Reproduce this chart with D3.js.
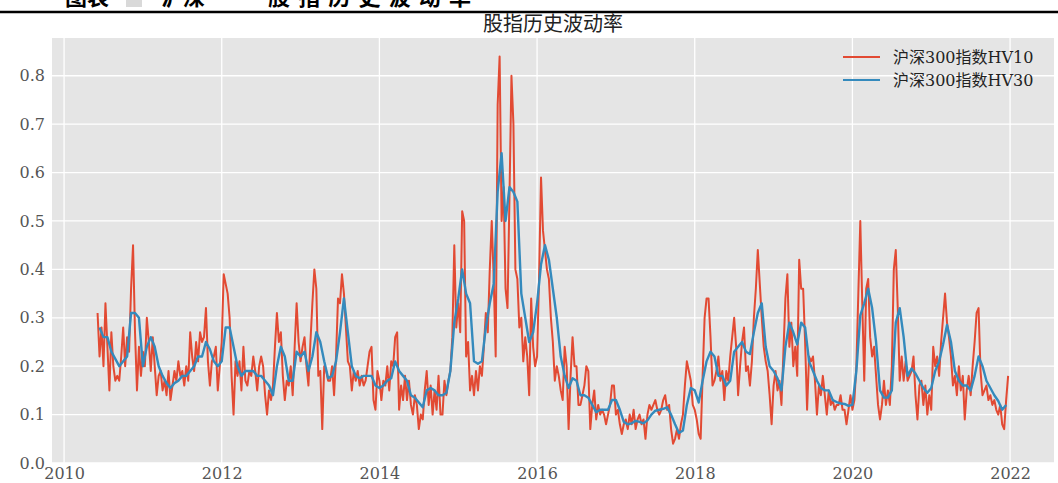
<!DOCTYPE html>
<html>
<head>
<meta charset="utf-8">
<script src="https://cdn.jsdelivr.net/npm/d3@7"></script>
<style>
  body { margin: 0; background: #fff; }
  svg text { font-family: "DejaVu Serif", "Noto Sans CJK SC", serif; }
  .axis path, .axis line { display: none; }
  .axis text { fill: #555; font-size: 16px; }
</style>
</head>
<body>
<svg id="chart"></svg>
<script>
// HV10 series, one value every 0.025 year starting 2010.425
const hv10Start = 2010.425;
const hv10Step = 0.025;
const hv10_2010 = [0.31,0.22,0.28,0.20,0.33,0.24,0.15,0.27,0.20,0.17,0.18,0.17,0.22,0.28,0.20,0.26,0.23,0.36,0.45,0.27,0.15,0.24,0.18];
const hv10_2011 = [0.23,0.20,0.30,0.25,0.19,0.26,0.20,0.14,0.18,0.19,0.15,0.17,0.14,0.19,0.13,0.16,0.19,0.17,0.21,0.18,0.19,0.16,0.20,0.17,0.27,0.22,0.19,0.25,0.21,0.27,0.25,0.26,0.32,0.21,0.16,0.21,0.22,0.24,0.15,0.20];
const hv10_2012 = [0.25,0.39,0.37,0.35,0.30,0.18,0.10,0.21,0.18,0.21,0.15,0.24,0.17,0.16,0.19,0.18,0.22,0.19,0.15,0.20,0.22,0.20,0.14,0.10,0.15,0.13,0.16,0.24,0.31,0.25,0.27,0.18,0.13,0.17,0.16,0.20,0.14,0.24,0.33,0.25];
const hv10_2013 = [0.21,0.24,0.26,0.20,0.16,0.25,0.33,0.40,0.36,0.18,0.19,0.07,0.20,0.19,0.17,0.17,0.20,0.14,0.22,0.34,0.33,0.39,0.35,0.28,0.21,0.20,0.15,0.19,0.17,0.19,0.16,0.18,0.16,0.17,0.20,0.23,0.24,0.13,0.11,0.19];
const hv10_2014 = [0.17,0.13,0.17,0.16,0.20,0.15,0.21,0.20,0.26,0.27,0.11,0.16,0.13,0.18,0.13,0.17,0.12,0.10,0.14,0.12,0.07,0.10,0.09,0.15,0.19,0.12,0.16,0.10,0.15,0.11,0.18,0.10,0.10,0.17,0.14,0.17,0.19,0.26,0.45,0.28];
const hv10_2015 = [0.33,0.27,0.52,0.50,0.22,0.25,0.15,0.18,0.14,0.19,0.15,0.20,0.18,0.24,0.31,0.27,0.40,0.50,0.38,0.22,0.74,0.84,0.50,0.57,0.36,0.32,0.55,0.80,0.70,0.40,0.38,0.28,0.30,0.21,0.26,0.22,0.14,0.34,0.24,0.20];
const hv10_2016 = [0.22,0.38,0.59,0.48,0.44,0.40,0.38,0.30,0.25,0.17,0.20,0.18,0.15,0.13,0.24,0.20,0.07,0.18,0.26,0.20,0.20,0.12,0.12,0.14,0.16,0.20,0.19,0.07,0.12,0.15,0.09,0.12,0.10,0.11,0.10,0.08,0.10,0.12,0.16,0.16];
const hv10_2017 = [0.10,0.11,0.08,0.06,0.08,0.09,0.07,0.10,0.08,0.11,0.07,0.09,0.10,0.08,0.09,0.05,0.10,0.12,0.11,0.12,0.13,0.11,0.10,0.11,0.13,0.14,0.11,0.12,0.07,0.04,0.05,0.07,0.05,0.08,0.10,0.16,0.21,0.19,0.17,0.12];
const hv10_2018 = [0.11,0.09,0.06,0.05,0.18,0.30,0.34,0.34,0.26,0.16,0.17,0.19,0.22,0.17,0.19,0.13,0.19,0.17,0.22,0.26,0.30,0.24,0.14,0.20,0.25,0.28,0.19,0.20,0.16,0.21,0.30,0.36,0.44,0.37,0.30,0.24,0.21,0.19,0.14,0.08];
const hv10_2019 = [0.16,0.19,0.15,0.17,0.12,0.23,0.34,0.39,0.24,0.29,0.20,0.24,0.18,0.42,0.36,0.36,0.25,0.11,0.22,0.21,0.22,0.17,0.10,0.16,0.14,0.18,0.14,0.10,0.15,0.12,0.13,0.11,0.12,0.12,0.14,0.11,0.11,0.08,0.11,0.14];
const hv10_2020 = [0.11,0.13,0.20,0.35,0.50,0.33,0.17,0.36,0.38,0.26,0.22,0.24,0.18,0.12,0.09,0.12,0.17,0.12,0.15,0.12,0.20,0.40,0.44,0.32,0.17,0.22,0.17,0.21,0.17,0.18,0.19,0.22,0.14,0.09,0.16,0.17,0.12,0.16,0.10,0.14];
const hv10_2021 = [0.11,0.24,0.20,0.22,0.18,0.25,0.30,0.35,0.29,0.26,0.22,0.16,0.18,0.14,0.20,0.15,0.18,0.09,0.15,0.18,0.14,0.20,0.25,0.31,0.32,0.19,0.14,0.15,0.16,0.13,0.14,0.12,0.13,0.11,0.10,0.12,0.08,0.07,0.13,0.18];

// HV30 series, one value every 0.05 year starting 2010.45
const hv30Start = 2010.45;
const hv30Step = 0.05;
const hv30_2010 = [0.28,0.26,0.26,0.23,0.215,0.20,0.21,0.22,0.31,0.31,0.30];
const hv30_2011 = [0.20,0.24,0.26,0.24,0.20,0.18,0.165,0.155,0.165,0.17,0.18,0.18,0.19,0.20,0.22,0.22,0.25,0.235,0.21,0.20];
const hv30_2012 = [0.21,0.28,0.28,0.24,0.20,0.18,0.19,0.19,0.19,0.18,0.18,0.17,0.16,0.14,0.20,0.24,0.22,0.17,0.17,0.23];
const hv30_2013 = [0.22,0.23,0.19,0.22,0.27,0.25,0.21,0.175,0.18,0.21,0.27,0.34,0.27,0.20,0.18,0.175,0.18,0.18,0.18,0.16];
const hv30_2014 = [0.155,0.16,0.17,0.175,0.21,0.19,0.18,0.17,0.14,0.135,0.125,0.115,0.15,0.155,0.15,0.14,0.14,0.145,0.19,0.29];
const hv30_2015 = [0.34,0.40,0.35,0.33,0.21,0.205,0.21,0.28,0.33,0.37,0.56,0.64,0.50,0.57,0.56,0.54,0.35,0.30,0.25,0.27];
const hv30_2016 = [0.33,0.41,0.45,0.42,0.36,0.30,0.22,0.18,0.155,0.175,0.17,0.14,0.14,0.135,0.12,0.105,0.11,0.11,0.11,0.13];
const hv30_2017 = [0.13,0.11,0.085,0.08,0.082,0.087,0.085,0.082,0.088,0.10,0.108,0.11,0.112,0.115,0.10,0.08,0.062,0.067,0.12,0.155];
const hv30_2018 = [0.15,0.125,0.17,0.21,0.23,0.22,0.18,0.18,0.16,0.17,0.23,0.24,0.25,0.23,0.225,0.27,0.31,0.33,0.24,0.20];
const hv30_2019 = [0.19,0.175,0.15,0.24,0.29,0.27,0.245,0.29,0.28,0.21,0.19,0.17,0.155,0.15,0.15,0.13,0.126,0.123,0.122,0.118];
const hv30_2020 = [0.12,0.19,0.305,0.33,0.36,0.32,0.25,0.15,0.135,0.135,0.15,0.29,0.32,0.26,0.18,0.195,0.185,0.17,0.155,0.145];
const hv30_2021 = [0.155,0.19,0.21,0.245,0.285,0.25,0.19,0.17,0.16,0.16,0.15,0.18,0.22,0.20,0.17,0.155,0.14,0.128,0.11,0.12];

const seriesNames = ["沪深300指数HV10", "沪深300指数HV30"];
const seriesColors = ["#E24A33", "#348ABD"];
const seriesWidths = [2, 2.4];
const xTicks = [2010, 2012, 2014, 2016, 2018, 2020, 2022];
const yTicks = [0, 0.1, 0.2, 0.3, 0.4, 0.5, 0.6, 0.7, 0.8];
const chartTitle = "股指历史波动率";

class VolChart {
  constructor(_config, _series) {
    this.config = {
      parentElement: _config.parentElement,
      containerWidth: _config.containerWidth || 1058,
      containerHeight: _config.containerHeight || 483,
      margin: _config.margin || { top: 38, right: 4, bottom: 20, left: 52 },
    };
    this.series = _series;
    this.initVis();
  }

  initVis() {
    let vis = this;
    vis.width = vis.config.containerWidth - vis.config.margin.left - vis.config.margin.right;
    vis.height = vis.config.containerHeight - vis.config.margin.top - vis.config.margin.bottom;

    vis.xScale = d3.scaleLinear().domain([2009.847, 2022.557]).range([0, vis.width]);
    vis.yScale = d3.scaleLinear().domain([0, 0.878]).range([vis.height, 0]);

    vis.xAxis = d3.axisBottom(vis.xScale).tickValues(xTicks).tickFormat(d3.format("d")).tickSize(0).tickPadding(5);
    vis.yAxis = d3.axisLeft(vis.yScale).tickValues(yTicks).tickFormat(d3.format(".1f")).tickSize(0).tickPadding(7);

    vis.svg = d3.select(vis.config.parentElement)
      .attr("width", vis.config.containerWidth)
      .attr("height", vis.config.containerHeight);

    // report header, cut off by the top edge as in the source screenshot
    const head = vis.svg.append("g").attr("font-family", "Noto Sans CJK SC").attr("font-weight", "bold").attr("font-size", 22);
    head.append("text").attr("x", 65).attr("y", 5).text("图表");
    head.append("rect").attr("x", 126).attr("y", 0).attr("width", 16).attr("height", 7).attr("fill", "#d9d9d9");
    head.append("text").attr("x", 161).attr("y", 5).text("沪深");
    head.append("text").attr("x", 268).attr("y", 5).attr("textLength", 203).text("股指历史波动率");
    vis.svg.append("line").attr("x1", 0).attr("x2", 1058).attr("y1", 12).attr("y2", 12)
      .attr("stroke", "#000").attr("stroke-width", 2.5);

    vis.svg.append("text")
      .attr("x", vis.config.margin.left + vis.width / 2)
      .attr("y", 31)
      .attr("text-anchor", "middle")
      .attr("font-family", "Noto Sans CJK SC")
      .attr("font-size", 20)
      .attr("fill", "#222")
      .text(chartTitle);

    vis.chart = vis.svg.append("g")
      .attr("transform", `translate(${vis.config.margin.left},${vis.config.margin.top})`);

    vis.chart.append("rect").attr("width", vis.width).attr("height", vis.height).attr("fill", "#E5E5E5");

    vis.chart.append("g").selectAll("line").data(yTicks).join("line")
      .attr("x1", 0).attr("x2", vis.width)
      .attr("y1", d => vis.yScale(d)).attr("y2", d => vis.yScale(d))
      .attr("stroke", "#fff").attr("stroke-width", 1.3);
    vis.chart.append("g").selectAll("line").data(xTicks).join("line")
      .attr("y1", 0).attr("y2", vis.height)
      .attr("x1", d => vis.xScale(d)).attr("x2", d => vis.xScale(d))
      .attr("stroke", "#fff").attr("stroke-width", 1.3);

    vis.xAxisG = vis.chart.append("g").attr("class", "axis x-axis").attr("transform", `translate(0,${vis.height})`);
    vis.yAxisG = vis.chart.append("g").attr("class", "axis y-axis");
  }

  updateVis() {
    let vis = this;
    vis.lines = vis.series.map(s => s.values.map((v, i) => ({ t: s.start + i * s.step, v: v })));
    vis.line = d3.line().x(d => vis.xScale(d.t)).y(d => vis.yScale(d.v));
    vis.renderVis();
  }

  renderVis() {
    let vis = this;

    vis.chart.selectAll(".series").data(vis.lines).join("path")
      .attr("class", "series")
      .attr("d", vis.line)
      .attr("fill", "none")
      .attr("stroke", (d, i) => seriesColors[i])
      .attr("stroke-width", (d, i) => seriesWidths[i])
      .attr("stroke-linejoin", "round");

    vis.xAxisG.call(vis.xAxis);
    vis.yAxisG.call(vis.yAxis);

    // legend, top right
    const legend = vis.svg.append("g").attr("transform", "translate(843,57)");
    const item = legend.selectAll("g").data(seriesNames).join("g")
      .attr("transform", (d, i) => `translate(0,${i * 23})`);
    item.append("line").attr("x1", 0).attr("x2", 37)
      .attr("stroke", (d, i) => seriesColors[i]).attr("stroke-width", 1.9);
    item.append("text").attr("x", 50).attr("y", 6).attr("font-size", 16).attr("fill", "#222").text(d => d);
  }
}

const chart = new VolChart({ parentElement: "#chart" }, [
  { start: hv10Start, step: hv10Step, values: [].concat(hv10_2010, hv10_2011, hv10_2012, hv10_2013, hv10_2014, hv10_2015, hv10_2016, hv10_2017, hv10_2018, hv10_2019, hv10_2020, hv10_2021) },
  { start: hv30Start, step: hv30Step, values: [].concat(hv30_2010, hv30_2011, hv30_2012, hv30_2013, hv30_2014, hv30_2015, hv30_2016, hv30_2017, hv30_2018, hv30_2019, hv30_2020, hv30_2021) },
]);
chart.updateVis();
</script>
</body>
</html>
